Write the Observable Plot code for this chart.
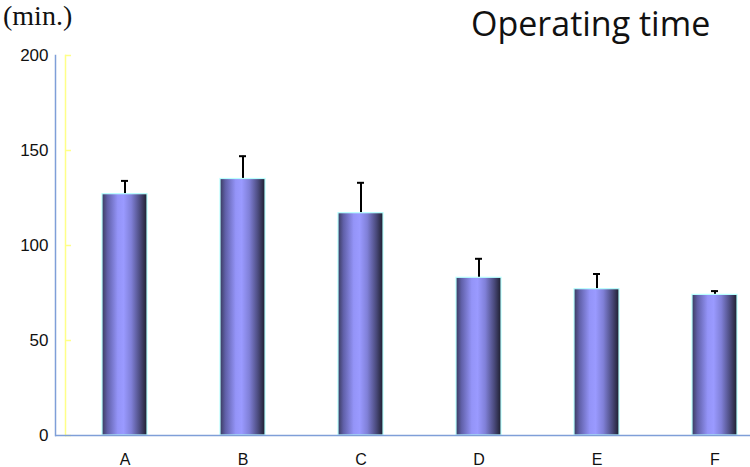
<!DOCTYPE html>
<html>
<head>
<meta charset="utf-8">
<script src="https://cdn.jsdelivr.net/npm/d3@7"></script>
<script src="https://cdn.jsdelivr.net/npm/@observablehq/plot@0.6"></script>
<style>
  html, body { margin: 0; padding: 0; background: #fff; }
</style>
</head>
<body>
<div id="chart"></div>
<script>
const categories = ["A", "B", "C", "D", "E", "F"];
const means = [127, 135, 117, 83, 77, 74];
const sds = [7, 12, 16, 10, 8, 2];
const yTicks = [0, 50, 100, 150, 200];
const unitLabel = "(min.)";
const titleText = "Operating time";

const data = categories.map((c, i) => ({cat: c, mean: means[i], upper: means[i] + sds[i]}));

const plot = Plot.plot({
  width: 750,
  height: 467,
  marginTop: 55,
  marginBottom: 32,
  marginLeft: 55,
  marginRight: 0,
  style: {fontFamily: "'Liberation Sans', Arial, sans-serif", background: "#fff", color: "#111", overflow: "visible"},
  x: {domain: categories, range: [65, 773], paddingInner: 0.62, paddingOuter: 0.31, align: 0.5},
  y: {domain: [0, 200], range: [435, 55]},
  marks: [
    Plot.axisY({ticks: yTicks, anchor: "left", tickSize: -6, dx: 10, stroke: "#ffff88", strokeWidth: 1.5, tickFormat: () => "", label: null}),
    Plot.frame({anchor: "left", dx: 10, stroke: "#ffff88", strokeWidth: 1.5}),
    Plot.ruleX(data, {x: "cat", y1: "mean", y2: "upper", stroke: "#000", strokeWidth: 2}),
    Plot.tickY(data, {x: "cat", y: "upper", stroke: "#000", strokeWidth: 2, insetLeft: 19, insetRight: 19}),
    Plot.barY(data, {x: "cat", y: "mean", fill: "url(#barGrad)", stroke: "#b8ffff", strokeWidth: 1.2}),
    Plot.frame({anchor: "left", stroke: "#7f9fd8", strokeWidth: 1.5}),
    Plot.ruleY([0], {stroke: "#7f9fd8", strokeWidth: 1.5}),
    Plot.axisY({ticks: yTicks, anchor: "left", tickSize: 0, tickPadding: 7, fontSize: 17, label: null}),
    Plot.axisX({anchor: "bottom", tickSize: 0, tickPadding: 18, fontSize: 16, label: null})
  ]
});

const svg = d3.select(plot);
const defs = svg.insert("defs", ":first-child");
const grad = defs.append("linearGradient").attr("id", "barGrad").attr("x1", 0).attr("x2", 1).attr("y1", 0).attr("y2", 0);
[[0, "#3a3a5e"], [0.12, "#6060a8"], [0.35, "#9494f8"], [0.48, "#9a9aff"], [0.65, "#8080d8"], [0.85, "#4a4a7c"], [1, "#1e1e2e"]]
  .forEach(([o, c]) => grad.append("stop").attr("offset", o).attr("stop-color", c));

svg.append("text").attr("x", 3).attr("y", 25).attr("text-anchor", "start")
  .attr("font-family", "'Liberation Serif', serif").attr("font-size", 28).attr("fill", "#111")
  .text(unitLabel);
svg.append("text").attr("x", 471).attr("y", 36).attr("text-anchor", "start")
  .attr("font-family", "'Open Sans', sans-serif").attr("font-size", 34).attr("fill", "#111")
  .text(titleText);

document.getElementById("chart").appendChild(plot);
</script>
</body>
</html>
